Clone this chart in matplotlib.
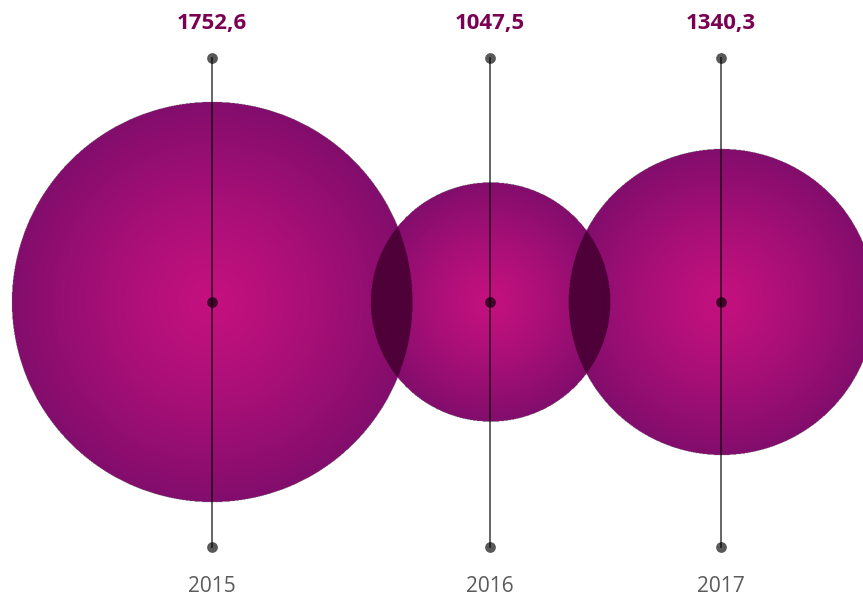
import numpy as np
import matplotlib.pyplot as plt
from matplotlib.colors import to_rgb

# chart data
years = ['2015', '2016', '2017']
values = [1752.6, 1047.5, 1340.3]
labels = ['1752,6', '1047,5', '1340,3']

# layout (pixels)
W, H = 863, 597
scale = 200 / 1752.6        # px per unit of value (radius)
overlap = 41.5              # neighbouring circles overlap by this much
left_edge = 12
cy, y_top, y_bot = 302, 58, 547

radii = [v * scale for v in values]
centers = []
for i, r in enumerate(radii):
    if i == 0:
        centers.append(left_edge + r)
    else:
        centers.append(centers[-1] + radii[i - 1] + r - overlap)

c_mid = np.array(to_rgb('#c4117f'))
c_edge = np.array(to_rgb('#820d6c'))
c_over = np.array(to_rgb('#4e0038'))

# build the bubble image (2x supersampled)
ss = 2
xs = (np.arange(W * ss) + 0.5) / ss
ys = (np.arange(H * ss) + 0.5) / ss
X, Y = np.meshgrid(xs, ys)
img = np.zeros((H * ss, W * ss, 4))
count = np.zeros((H * ss, W * ss))
for cx, r in zip(centers, radii):
    d = np.hypot(X - cx, Y - cy) / r
    inside = d <= 1
    t = (np.clip(d, 0, 1) ** 1.2)[..., None]
    col = c_mid * (1 - t) + c_edge * t
    img[inside, :3] = col[inside]
    img[inside, 3] = 1
    count += inside
img[count >= 2, :3] = c_over

fig = plt.figure(figsize=(W / 100, H / 100), dpi=100)
ax = fig.add_axes([0, 0, 1, 1])
ax.imshow(img, extent=[0, W, H, 0], interpolation='antialiased', zorder=1)
ax.set_xlim(0, W)
ax.set_ylim(H, 0)
ax.axis('off')

for cx, yr, lab in zip(centers, years, labels):
    ax.plot([cx, cx], [y_top, y_bot], color='black', alpha=0.65, lw=1.3, zorder=2)
    ax.scatter([cx, cx, cx], [y_top, cy, y_bot], s=60, color='black', alpha=0.65,
               linewidths=0, zorder=3)
    ax.text(cx, 23, lab, ha='center', va='center', fontsize=16, fontweight='bold',
            family='Open Sans', color='#7a0054')
    ax.text(cx, 586, yr, ha='center', va='center', fontsize=15,
            family='Open Sans', color='#5a5a5a')

fig.savefig('out.png', dpi=100)
